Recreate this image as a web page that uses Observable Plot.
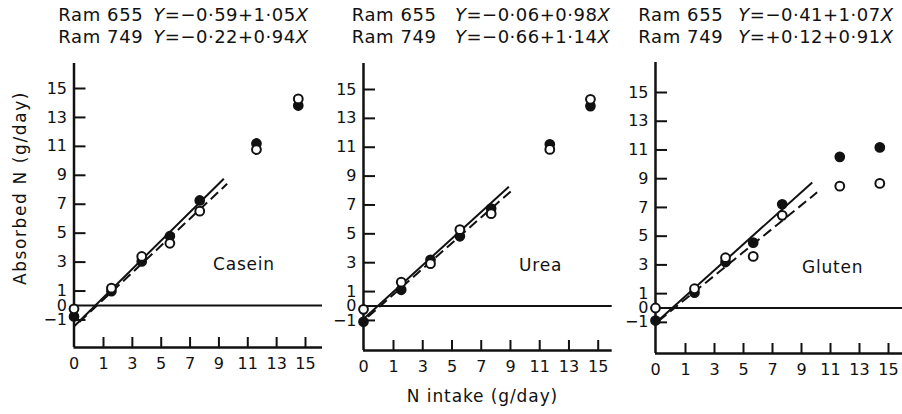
<!DOCTYPE html>
<html><head><meta charset="utf-8">
<script src="https://cdn.jsdelivr.net/npm/d3@7"></script>
<script src="https://cdn.jsdelivr.net/npm/@observablehq/plot@0.6"></script>
<style>
html,body{margin:0;padding:0;background:#fff;}
#fig{position:relative;width:902px;height:414px;overflow:hidden;font-family:"DejaVu Sans",sans-serif;color:#111;}
#fig svg{position:absolute;left:0;top:0;}
.t{position:absolute;white-space:nowrap;font-size:17px;line-height:1;}
.h{font-size:18px;}
</style></head><body><div id="fig"></div>
<script>
// ---- data ----
const proteins = ["Casein", "Urea", "Gluten"];
const rams = ["Ram 655", "Ram 749"];
const intercept655 = [-0.59, -0.06, -0.41];
const slope655 = [1.05, 0.98, 1.07];
const intercept749 = [-0.22, -0.66, 0.12];
const slope749 = [0.94, 1.14, 0.91];

const caseinIntake = [0, 1.55, 3.65, 5.6, 7.67, 11.6, 14.5];
const casein655 = [-0.76, 0.99, 3.04, 4.79, 7.26, 11.2, 13.82];
const casein749 = [-0.23, 1.2, 3.39, 4.3, 6.52, 10.78, 14.28];

const ureaIntake = [0, 1.53, 3.53, 5.54, 7.68, 11.69, 14.47];
const urea655 = [-1.09, 1.12, 3.2, 4.83, 6.75, 11.2, 13.85];
const urea749 = [-0.23, 1.65, 2.93, 5.29, 6.4, 10.85, 14.32];

const glutenIntake = [0, 1.62, 3.76, 5.67, 7.67, 11.64, 14.4];
const gluten655 = [-0.87, 1.06, 3.2, 4.55, 7.22, 10.52, 11.18];
const gluten749 = [0.0, 1.34, 3.5, 3.59, 6.45, 8.48, 8.67];

// fitted lines as drawn: [x1, y1, x2, y2]
const caseinLine655 = [0, -1.45, 9.34, 8.76];
const caseinLine749 = [0.18, -1.15, 9.57, 8.41];
const ureaLine655 = [0, -0.9, 8.89, 8.26];
const ureaLine749 = [0.15, -0.75, 9.12, 8.03];
const glutenLine655 = [0, -1.05, 9.74, 8.74];
const glutenLine749 = [0.1, -0.9, 10.08, 8.05];

const yTicks = [15, 13, 11, 9, 7, 5, 3, 1, 0, -1];
const xTicks = [0, 1, 3, 5, 7, 9, 11, 13, 15];

// ---- layout (page pixels) ----
const layouts = [
  {p0: 73.5, p1: 103, p15: 305, pEnd: 322, y0: 305, y15: 88, yTop: 63, yBottom: 347},
  {p0: 363, p1: 393, p15: 597.7, pEnd: 611.7, y0: 305.5, y15: 89, yTop: 63, yBottom: 350},
  {p0: 655, p1: 685, p15: 888, pEnd: 902, y0: 307.5, y15: 92, yTop: 62, yBottom: 353}
];
const panelData = [
  {intake: caseinIntake, a: casein655, b: casein749, la: caseinLine655, lb: caseinLine749},
  {intake: ureaIntake, a: urea655, b: urea749, la: ureaLine655, lb: ureaLine749},
  {intake: glutenIntake, a: gluten655, b: gluten749, la: glutenLine655, lb: glutenLine749}
];

const fig = document.getElementById("fig");
const fmtTick = d => d < 0 ? "\u2212" + Math.abs(d) : String(d);
const seg = s => [{x1: s[0], y1: s[1], x2: s[2], y2: s[3]}];

layouts.forEach((L, i) => {
  const D = panelData[i];
  const ux = (L.p15 - L.p1) / 14;          // px per unit above 1
  const k = (L.p1 - L.p0) / ux;            // stretched width of the 0..1 interval (scale break)
  const brk = v => v <= 1 ? v * k : v - 1 + k;
  const uy = (L.y0 - L.y15) / 15;
  const yMin = (L.y0 - L.yBottom) / uy;
  const yMax = (L.y0 - L.yTop) / uy;
  const rows = D.intake.map((x, j) => ({x, a: D.a[j], b: D.b[j]}));
  const svg = Plot.plot({
    width: 902, height: 414,
    marginLeft: L.p0, marginRight: 902 - L.pEnd, marginTop: L.yTop, marginBottom: 414 - L.yBottom,
    x: {type: "linear", transform: brk, domain: [0, (L.pEnd - L.p0) / ux], range: [L.p0, L.pEnd], label: null},
    y: {domain: [yMin, yMax], range: [L.yBottom, L.yTop], label: null},
    style: {background: "transparent", color: "#111", fontFamily: "DejaVu Sans", fontSize: "16px", overflow: "visible"},
    marks: [
      Plot.ruleY([0], {strokeWidth: 2.2}),
      Plot.ruleX([0], {strokeWidth: 2.5}),
      Plot.ruleY([yMin], {strokeWidth: 2.5}),
      Plot.axisY(yTicks.filter(d => d !== 0), {tickSize: -12, tickFormat: () => "", strokeWidth: 2}),
      Plot.axisY(yTicks, {tickSize: 0, tickPadding: 7, tickFormat: fmtTick, fontSize: 16}),
      Plot.axisX(xTicks.slice(1), {tickSize: -10, tickFormat: () => "", strokeWidth: 2}),
      Plot.axisX(xTicks, {tickSize: 0, tickPadding: 10, tickFormat: fmtTick, fontSize: 16}),
      Plot.link(seg(D.la), {x1: "x1", y1: "y1", x2: "x2", y2: "y2", strokeWidth: 2}),
      Plot.link(seg(D.lb), {x1: "x1", y1: "y1", x2: "x2", y2: "y2", strokeWidth: 2, strokeDasharray: "10,5"}),
      Plot.dot(rows, {x: "x", y: "a", r: 4.6, fill: "#111", stroke: "#111"}),
      Plot.dot(rows, {x: "x", y: "b", r: 4.4, fill: "white", stroke: "#111", strokeWidth: 2})
    ]
  });
  fig.appendChild(svg);
});

// ---- text ----
const fmtCoef = v => (v < 0 ? "\u2212" : "+") + Math.abs(v).toFixed(2).replace(".", "\u00b7");
const ramLeft = [58.3, 351.7, 638.3];
const eqLeft = [153.3, 455, 738.3];
function addText(html, style, cls) {
  const d = document.createElement("div");
  d.className = "t" + (cls ? " " + cls : "");
  d.innerHTML = html;
  Object.assign(d.style, style);
  fig.appendChild(d);
  return d;
}
proteins.forEach((p, i) => {
  addText(rams[0], {left: ramLeft[i] + "px", top: "5.5px", letterSpacing: "0.6px"}, "h");
  addText(rams[1], {left: ramLeft[i] + "px", top: "27.5px", letterSpacing: "0.6px"}, "h");
  addText("<i>Y</i>=" + fmtCoef(intercept655[i]) + fmtCoef(slope655[i]) + "<i>X</i>",
    {left: eqLeft[i] + "px", top: "5.5px", letterSpacing: "0.5px"}, "h");
  addText("<i>Y</i>=" + fmtCoef(intercept749[i]) + fmtCoef(slope749[i]) + "<i>X</i>",
    {left: eqLeft[i] + "px", top: "27.5px", letterSpacing: "0.5px"}, "h");
});
const labelPos = [[213, 255.8], [519, 256.6], [802, 258.6]];
proteins.forEach((p, i) => addText(p, {left: labelPos[i][0] + "px", top: labelPos[i][1] + "px", letterSpacing: "0.8px"}));
addText("Absorbed N (g/day)", {left: "20px", top: "188px", transform: "translate(-50%,-50%) rotate(-90deg)", letterSpacing: "1.6px"});
addText("N intake (g/day)", {left: "482.5px", top: "387.6px", transform: "translateX(-50%)", letterSpacing: "0.9px"});
</script></body></html>
